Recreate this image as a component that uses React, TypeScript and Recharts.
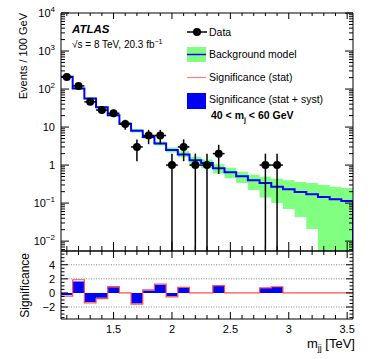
import React from 'react';
import { Area, ComposedChart, ErrorBar, Line, ReferenceLine, Scatter, XAxis, YAxis } from 'recharts';

// bins of 100 GeV, centres in TeV
const binCenters = [1.1, 1.2, 1.3, 1.4, 1.5, 1.6, 1.7, 1.8, 1.9, 2.0, 2.1, 2.2, 2.3, 2.4, 2.5, 2.6, 2.7, 2.8, 2.9, 3.0, 3.1, 3.2, 3.3, 3.4, 3.5];
const binWidth = 0.1;

const dataCounts = [207, 121, 46, 28, 23, 12, 3, 6, 6, 1, 3, 1, 1, 2, 0, 0, 0, 1, 1, 0, 0, 0, 0, 0, 0];
const bkgModel = [210, 104, 56, 33, 20.5, 12.3, 8.0, 5.5, 3.7, 2.5, 1.9, 1.35, 1.13, 0.83, 0.65, 0.51, 0.4, 0.34, 0.27, 0.23, 0.195, 0.17, 0.145, 0.127, 0.113];
const bkgLow = [200, 99, 53, 31, 19.2, 11.4, 7.2, 4.9, 3.25, 2.15, 1.6, 1.05, 0.82, 0.6, 0.45, 0.34, 0.22, 0.14, 0.1, 0.07, 0.043, 0.021, 0.001, 0.001, 0.001];
const bkgHigh = [221, 110, 60, 35.5, 22.2, 13.5, 8.9, 6.2, 4.2, 2.9, 2.3, 1.65, 1.4, 1.05, 0.85, 0.67, 0.56, 0.49, 0.44, 0.4, 0.36, 0.34, 0.3, 0.27, 0.25];

const sigStatSyst = [-0.3, 1.62, -1.3, -0.7, 0.8, 0, -1.5, 0.33, 1.17, -0.47, 0.7, 0, 0, 1.0, 0, 0, 0, 0.7, 0.85, 0, 0, 0, 0, 0, 0];
const sigStat = [-0.45, 1.87, -1.4, -0.8, 0.89, 0, -1.58, 0.42, 1.26, -0.56, 0.79, 0, 0, 1.03, 0, 0, 0, 0.73, 0.88, 0, 0, 0, 0, 0, 0];

const logMajorTicks = [0.01, 0.1, 1, 10, 100, 1000, 10000];
const sigMajorTicks = [-2, 0, 2, 4];
const sigGuides = [4, 2, -2];

const X_DOMAIN: [number, number] = [1.05, 3.55];
const Y_MIN = 0.0055;
const Y_MAX = 10000;
const SIG_DOMAIN: [number, number] = [-3.7, 5.95];

const logMinorTicks: number[] = [];
for (let e = -3; e <= 3; e++) {
  for (let m = 2; m <= 9; m++) {
    const v = m * Math.pow(10, e);
    if (v > Y_MIN && v < Y_MAX) logMinorTicks.push(v);
  }
}
const logTicks = [...logMajorTicks, ...logMinorTicks].sort((a, b) => a - b);
const sigTicks: number[] = [];
for (let v = -3.5; v <= 5.5; v += 0.5) sigTicks.push(v);

const stepRows = binCenters.map((c, i) => ({
  x: +(c - binWidth / 2).toFixed(2),
  bkg: bkgModel[i],
  band: [bkgLow[i], bkgHigh[i]],
  syst: sigStatSyst[i],
  stat: sigStat[i],
}));
// closing edge: the histogram drops to the floor at the last edge
stepRows.push({ x: X_DOMAIN[1], bkg: 1e-4, band: [bkgLow[24], bkgHigh[24]], syst: 0, stat: 0 });

const points = binCenters
  .map((c, i) => ({ x: c, n: dataCounts[i] }))
  .filter((p) => p.n > 0)
  .map((p) => {
    const e = Math.sqrt(p.n);
    return { ...p, ey: [p.n - Math.max(p.n - e, Y_MIN), e], ex: binWidth / 2 };
  });

type Side = 'left' | 'right' | 'top' | 'bottom';

const near = (a: number, b: number) => Math.abs(a - b) < 1e-6;
const isHalf = (v: number) => near(v * 2, Math.round(v * 2));
const isDecade = (v: number) => near(Math.log10(v), Math.round(Math.log10(v)));
const isEven = (v: number) => near(v / 2, Math.round(v / 2));

function tickRenderer(
  side: Side,
  isMajor: (v: number) => boolean,
  majorLen: number,
  minorLen: number,
  label?: (v: number, x: number, y: number) => React.ReactNode,
) {
  return (props: any) => {
    const { x, y, payload } = props;
    const v = payload.value as number;
    const major = isMajor(v);
    const len = major ? majorLen : minorLen;
    let d = [x, y, x, y - len];
    if (side === 'left') d = [x, y, x + len, y];
    if (side === 'right') d = [x, y, x - len, y];
    if (side === 'top') d = [x, y, x, y + len];
    return (
      <g>
        <line x1={d[0]} y1={d[1]} x2={d[2]} y2={d[3]} stroke="#000" strokeWidth={1} />
        {major && label ? label(v, x, y) : null}
      </g>
    );
  };
}

const logLabel = (v: number, x: number, y: number) => {
  const e = Math.round(Math.log10(v));
  return (
    <text x={x - 6} y={y + 4} textAnchor="end" fontSize={11} fill="#000">
      {e === 0 ? '1' : '10'}
      {e !== 0 && e !== 1 ? (
        <tspan dy={-5} fontSize={8}>
          {e < 0 ? `\u2212${-e}` : e}
        </tspan>
      ) : null}
    </text>
  );
};

const sigLabel = (v: number, x: number, y: number) => (
  <text x={x - 6} y={y + 4} textAnchor="end" fontSize={11} fill="#000">
    {v < 0 ? `\u2212${-v}` : v}
  </text>
);

const xLabel = (v: number, x: number, y: number) => (
  <text x={x} y={y + 14} textAnchor="middle" fontSize={11} fill="#000">
    {v}
  </text>
);

const frame = { stroke: '#000', strokeWidth: 1 };

export default function App() {
  return (
    <div
      style={{
        position: 'absolute',
        left: 0,
        top: 0,
        width: 374,
        height: 359,
        background: '#fff',
        fontFamily: "'Liberation Sans', Arial, Helvetica, sans-serif",
      }}
    >
      <div style={{ position: 'absolute', left: 0, top: 0 }}>
        <ComposedChart width={374} height={252} data={stepRows} margin={{ top: 12, right: 20, bottom: 0, left: 0 }}>
          <XAxis xAxisId="x" type="number" dataKey="x" domain={X_DOMAIN} allowDataOverflow ticks={binCenters} interval={0}
            height={1} tickSize={0} tickMargin={0} tickLine={false} axisLine={frame}
            tick={tickRenderer('bottom', isHalf, 9, 5)} />
          <XAxis xAxisId="xt" orientation="top" type="number" dataKey="x" domain={X_DOMAIN} allowDataOverflow ticks={binCenters} interval={0}
            height={1} tickSize={0} tickMargin={0} tickLine={false} axisLine={frame}
            tick={tickRenderer('top', isHalf, 6, 3)} />
          <YAxis yAxisId="y" type="number" scale="log" domain={[Y_MIN, Y_MAX]} allowDataOverflow ticks={logTicks} interval={0}
            width={61} tickSize={0} tickMargin={0} tickLine={false} axisLine={frame}
            tick={tickRenderer('left', isDecade, 8, 4, logLabel)} />
          <YAxis yAxisId="yr" orientation="right" type="number" scale="log" domain={[Y_MIN, Y_MAX]} allowDataOverflow ticks={logTicks} interval={0}
            width={1} tickSize={0} tickMargin={0} tickLine={false} axisLine={frame}
            tick={tickRenderer('right', isDecade, 8, 4)} />
          <Area xAxisId="x" yAxisId="y" type="stepAfter" dataKey="band" fill="#80ff80" fillOpacity={1} stroke="none" isAnimationActive={false} />
          <Line xAxisId="x" yAxisId="y" type="stepAfter" dataKey="bkg" stroke="#0000ff" strokeWidth={2} dot={false} isAnimationActive={false} />
          <Scatter xAxisId="x" yAxisId="y" data={points} dataKey="n" isAnimationActive={false}
            shape={(p: any) => <circle cx={p.cx} cy={p.cy} r={4} fill="#000" />}>
            <ErrorBar dataKey="ey" direction="y" width={0} stroke="#000" strokeWidth={1.5} />
            <ErrorBar dataKey="ex" direction="x" width={0} stroke="#000" strokeWidth={1.5} />
          </Scatter>
        </ComposedChart>
      </div>

      <div style={{ position: 'absolute', left: 0, top: 250 }}>
        <ComposedChart width={374} height={110} data={stepRows} margin={{ top: 0, right: 20, bottom: 10, left: 0 }}>
          <XAxis xAxisId="sx" type="number" dataKey="x" domain={X_DOMAIN} allowDataOverflow ticks={binCenters} interval={0}
            height={31} tickSize={0} tickMargin={0} tickLine={false} axisLine={frame}
            tick={tickRenderer('bottom', isHalf, 7, 4, xLabel)} />
          <XAxis xAxisId="sxt" orientation="top" type="number" dataKey="x" domain={X_DOMAIN} allowDataOverflow ticks={binCenters} interval={0}
            height={1} tickSize={0} tickMargin={0} tickLine={false} axisLine={frame}
            tick={tickRenderer('top', isHalf, 7, 4)} />
          <YAxis yAxisId="s" type="number" domain={SIG_DOMAIN} allowDataOverflow ticks={sigTicks} interval={0}
            width={61} tickSize={0} tickMargin={0} tickLine={false} axisLine={frame}
            tick={tickRenderer('left', (v) => sigMajorTicks.some((t) => near(t, v)), 7, 3.5, sigLabel)} />
          <YAxis yAxisId="sr" orientation="right" type="number" domain={SIG_DOMAIN} allowDataOverflow ticks={sigTicks} interval={0}
            width={1} tickSize={0} tickMargin={0} tickLine={false} axisLine={frame}
            tick={tickRenderer('right', isEven, 7, 3.5)} />
          {sigGuides.map((g) => (
            <ReferenceLine key={g} xAxisId="sx" yAxisId="s" y={g} stroke="#888" strokeDasharray="1 1.5" />
          ))}
          <Area xAxisId="sx" yAxisId="s" type="stepAfter" dataKey="syst" baseValue={0} fill="#0000ff" fillOpacity={1} stroke="none" isAnimationActive={false} />
          <Line xAxisId="sx" yAxisId="s" type="stepAfter" dataKey="stat" stroke="#ff5050" strokeWidth={1.2} dot={false} isAnimationActive={false} />
        </ComposedChart>
      </div>

      <svg width={374} height={359} style={{ position: 'absolute', left: 0, top: 0, pointerEvents: 'none' }}>
        <text transform="translate(27,13) rotate(-90)" textAnchor="end" fontSize={11} fill="#000">Events / 100 GeV</text>
        <text transform="translate(28.5,253) rotate(-90)" textAnchor="end" fontSize={12} fill="#000">Significance</text>
        <text x={355} y={348} textAnchor="end" fontSize={13} fill="#000">
          m<tspan dy={3} fontSize={9}>jj</tspan><tspan dy={-3}> [TeV]</tspan>
        </text>

        <text x={72} y={33} fontSize={11.5} fontWeight="bold" fontStyle="italic" fill="#000">ATLAS</text>
        <text x={72} y={48} fontSize={10} fill="#000">
          √s = 8 TeV, 20.3 fb<tspan dy={-4} fontSize={7}>−1</tspan>
        </text>

        <line x1={187} x2={207} y1={32} y2={32} stroke="#000" strokeWidth={1.5} />
        <circle cx={197} cy={32} r={4} fill="#000" />
        <text x={209} y={36} fontSize={10.5} fill="#000">Data</text>

        <rect x={187} y={47} width={19} height={15} fill="#80ff80" />
        <line x1={187} x2={206} y1={54.5} y2={54.5} stroke="#0000ff" strokeWidth={1.5} />
        <text x={209} y={58} fontSize={10.5} fill="#000">Background model</text>

        <line x1={187} x2={206} y1={77.5} y2={77.5} stroke="#ff8080" strokeWidth={1.2} />
        <text x={209} y={81} fontSize={10.5} fill="#000">Significance (stat)</text>

        <rect x={187} y={93} width={19} height={16} fill="#0000ff" />
        <text x={209} y={103} fontSize={10.5} fill="#000">Significance (stat + syst)</text>

        <text x={211} y={119} fontSize={10.5} fontWeight="bold" fill="#000">
          40 &lt; m<tspan dy={2.5} fontSize={7}>j</tspan><tspan dy={-2.5}> &lt; 60 GeV</tspan>
        </text>
      </svg>
    </div>
  );
}
